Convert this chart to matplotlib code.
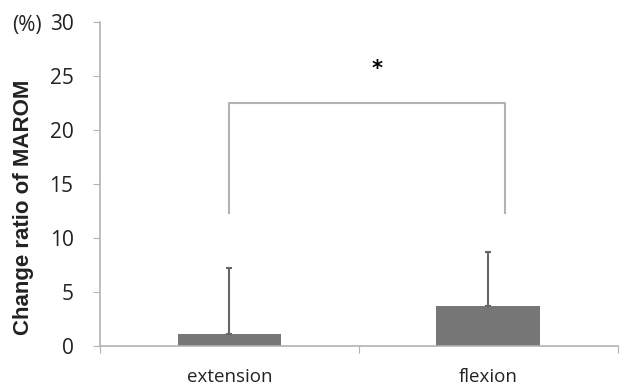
import numpy as np
import matplotlib.pyplot as plt

plt.rcParams['font.family'] = ['Open Sans', 'DejaVu Sans']

# Mean change ratio and SD per movement
groups = ['extension', 'flexion']
means = [1.1, 3.75]
sds = [6.15, 5.0]

# significance bracket (y levels in %)
bracket_top = 22.5
bracket_bottom = 12.3

fig = plt.figure(figsize=(6.24, 3.85), dpi=100)
ax = fig.add_axes([0.16, 0.101, 0.83, 0.842])

x = np.arange(len(groups))
ax.bar(x, means, width=0.40, color='#777777', zorder=2)
ax.errorbar(x, means, yerr=[np.zeros(len(sds)), sds], fmt='none',
            ecolor='#666666', elinewidth=1.5, capsize=2, capthick=1.5, zorder=3)

# bracket between the two groups
ax.plot([0, 0, 1.064, 1.064], [bracket_bottom, bracket_top, bracket_top, bracket_bottom],
        color='#b3b3b3', lw=1.5, zorder=1)
ax.text(0.57, 25.6, '*', ha='center', va='center', fontsize=15, fontweight='bold',
        family='DejaVu Sans')

ax.set_xlim(-0.5, 1.5)
ax.set_ylim(0, 30)
ax.set_yticks(np.arange(0, 31, 5))
ax.set_xticks([-0.5, 0.5, 1.5])
ax.set_xticklabels([])
ax.set_xticks(x, minor=True)
ax.set_xticklabels(groups, minor=True, fontsize=13.5, color='#222222')
ax.tick_params(axis='x', which='minor', length=0, pad=16)
ax.tick_params(axis='x', which='major', length=5, color='#b3b3b3', direction='out')
ax.tick_params(axis='y', length=5, color='#b3b3b3', labelsize=15, pad=14,
               labelcolor='#222222')

for side in ['top', 'right']:
    ax.spines[side].set_visible(False)
for side in ['left', 'bottom']:
    ax.spines[side].set_color('#b3b3b3')
    ax.spines[side].set_linewidth(1.2)

fig.text(24 / 624, 1 - 207 / 385, 'Change ratio of MAROM', rotation=90,
         ha='center', va='center', family=['Liberation Sans', 'DejaVu Sans'],
         fontweight='bold', fontsize=16, color='#222222')
fig.text(12 / 624, 1 - 25 / 385, '(%)', ha='left', va='center', fontsize=15,
         color='#222222')

fig.savefig('out.png', dpi=100)
